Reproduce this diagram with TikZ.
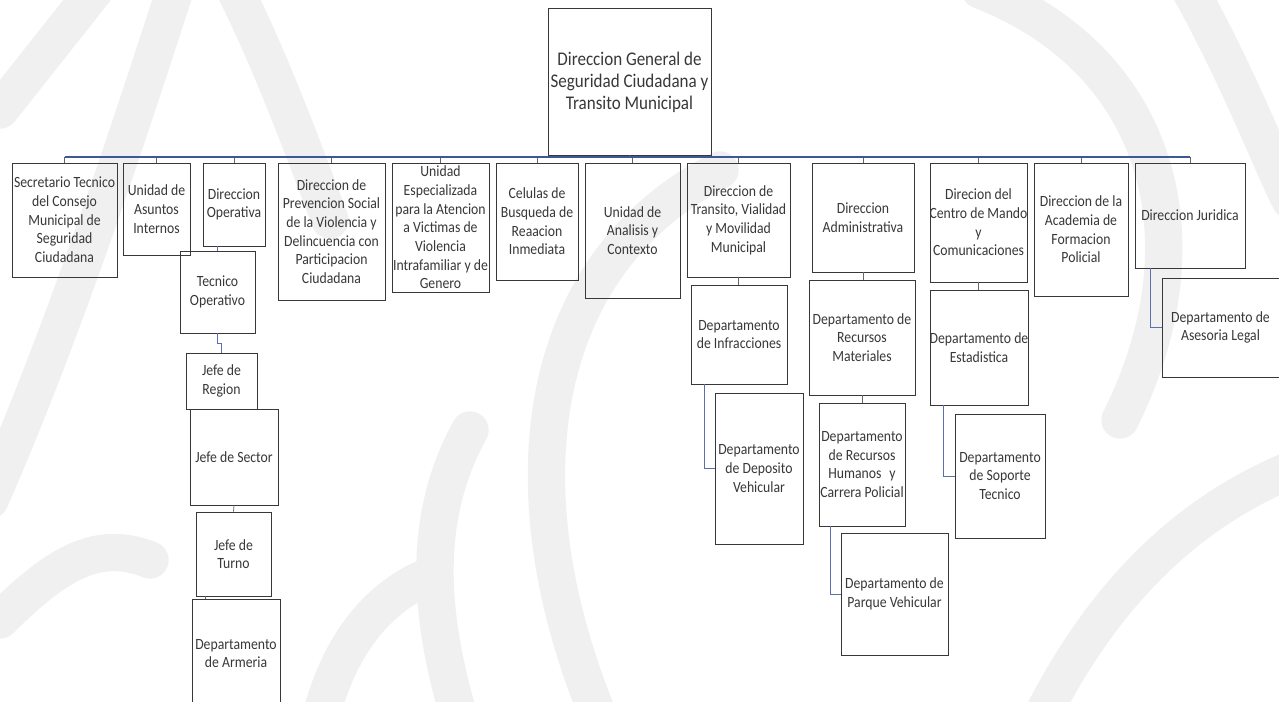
\documentclass[tikz,border=0pt]{standalone}
\usepackage{fontspec}
\setmainfont{Carlito}[FakeStretch=0.88]
\usetikzlibrary{fit}
\definecolor{busblue}{RGB}{62,88,150}
\definecolor{connblue}{RGB}{90,112,175}
\newcommand{\bodyfont}{\fontsize{11.7}{14}\selectfont}
\newcommand{\topfont}{\fontsize{14.5}{16.5}\selectfont}
\newcommand{\orgbox}[6]{\node[orgnode, fit={(#2,#3) (#4,#5)}] (#1) {};
  \node[orgtext] (#1-t) at (#1.center) {#6};}
\begin{document}
\begin{tikzpicture}[x=0.75pt,y=-0.75pt,
  orgnode/.style={draw=black!78, line width=0.7pt, inner sep=0pt},
  orgtext/.style={inner sep=0pt, align=center, font=\bodyfont, text=black!78},
  wm/.style={draw=black!6, line width=28pt, line cap=round},
  conn/.style={draw=connblue, line width=0.55pt},
  stub/.style={draw=black!60, line width=0.55pt},
  bus/.style={draw=busblue, line width=1.4pt}]
\useasboundingbox (0,0) rectangle (1279,702);
\fill[white] (0,0) rectangle (1279,702);
% watermark
\begin{scope}
\clip (0,0) rectangle (1279,702);
\draw[wm] (0,110) -- (95,-10);
\draw[wm] (175,-10) .. controls (120,160) and (60,340) .. (-10,500);
\draw[wm] (235,-10) .. controls (270,60) and (300,140) .. (330,220);
\draw[wm] (720,170) .. controls (540,260) and (500,480) .. (600,720);
\draw[wm] (460,720) .. controls (430,620) and (420,520) .. (470,430);
\draw[wm] (980,-10) .. controls (1160,60) and (1210,240) .. (1120,420);
\draw[wm] (1040,720) .. controls (1120,560) and (1220,500) .. (1290,470);
\draw[wm] (1190,-10) .. controls (1240,80) and (1270,160) .. (1290,200);
\draw[wm] (0,620) .. controls (60,560) and (100,540) .. (150,560);
\draw[wm] (320,720) .. controls (340,640) and (380,600) .. (420,580);
\end{scope}
% top
\node[orgnode, fit={(548,8) (711,155)}] (top) {};
\node[orgtext, font=\topfont] (top-t) at ([yshift=-1]top.center) {Direccion General de\\Seguridad Ciudadana y\\Transito Municipal};
% level 1
\orgbox{b1}{12}{163}{117}{277}{Secretario Tecnico\\del Consejo\\Municipal de\\Seguridad\\Ciudadana}
\orgbox{b2}{123}{163}{190}{255}{Unidad de\\Asuntos\\Internos}
\orgbox{b3}{203}{163}{265}{246}{Direccion\\Operativa}
\orgbox{b5}{278}{163}{385}{300}{Direccion de\\Prevencion Social\\de la Violencia y\\Delincuencia con\\Participacion\\Ciudadana}
\orgbox{b6}{392}{163}{489}{292}{Unidad\\Especializada\\para la Atencion\\a Victimas de\\Violencia\\Intrafamiliar y de\\Genero}
\orgbox{b7}{496}{163}{578}{280}{Celulas de\\Busqueda de\\Reaacion\\Inmediata}
\orgbox{b8}{585}{163}{680}{298}{Unidad de\\Analisis y\\Contexto}
\orgbox{b9}{687}{163}{790}{277}{Direccion de\\Transito, Vialidad\\y Movilidad\\Municipal}
\orgbox{b10}{812}{163}{914}{272}{Direccion\\Administrativa}
\orgbox{b11}{930}{163}{1027}{282}{Direcion del\\Centro de Mando\\y\\Comunicaciones}
\orgbox{b12}{1034}{163}{1128}{296}{Direccion de la\\Academia de\\Formacion\\Policial}
\orgbox{b13}{1135}{163}{1245}{268}{Direccion Juridica}
% sub levels
\orgbox{to}{180}{251}{255}{333}{Tecnico\\Operativo}
\orgbox{jr}{186}{353}{257}{409}{Jefe de\\Region}
\orgbox{js}{190}{409}{278}{505}{Jefe de Sector}
\orgbox{jt}{196}{512}{271}{596}{Jefe de\\Turno}
\orgbox{da}{192}{599}{280}{708}{Departamento\\de Armeria}
\orgbox{di}{691}{285}{787}{384}{Departamento\\de Infracciones}
\orgbox{dv}{715}{393}{803}{544}{Departamento\\de Deposito\\Vehicular}
\orgbox{rm}{809}{280}{915}{395}{Departamento de\\Recursos\\Materiales}
\orgbox{rh}{819}{403}{905}{526}{Departamento\\de Recursos\\Humanos\enspace y\\Carrera Policial}
\orgbox{pv}{841}{533}{948}{655}{Departamento de\\Parque Vehicular}
\orgbox{es}{930}{290}{1028}{405}{Departamento de\\Estadistica}
\orgbox{st}{955}{414}{1045}{538}{Departamento\\de Soporte\\Tecnico}
\orgbox{al}{1162}{278}{1279}{377}{Departamento de\\Asesoria Legal}
% bus
\coordinate (busL) at (65,157);
\draw[stub] (top.south) -- (top.south |- busL);
\foreach \b in {b1,b2,b3,b5,b6,b7,b8,b9,b10,b11,b12,b13}
  \draw[stub] (\b.north |- busL) -- (\b.north);
\draw[bus] (b1.north |- busL) -- (b13.north |- busL);
% children
\draw[conn, line width=1.2pt] (to.north |- b3.south) -- (to.north);
\draw[conn] (to.south) -- ++(0,10) -| (jr.north);
\draw[stub] (js.south) -- (jt.north);
\draw[stub] ([xshift=7]jt.south west) -- ([xshift=7]jt.south west |- da.north);
\draw[stub] (b9.south) -- (b9.south |- di.north);
\draw[conn] ([xshift=10]di.south west) |- (dv.west);
\draw[stub] (b10.south) -- (b10.south |- rm.north);
\draw[stub] (rm.south) -- (rm.south |- rh.north);
\draw[conn] ([xshift=9]rh.south west) |- (pv.west);
\draw[stub] (b11.south) -- (b11.south |- es.north);
\draw[conn] ([xshift=10]es.south west) |- (st.west);
\draw[conn] ([xshift=12]b13.south west) |- (al.west);
\end{tikzpicture}
\end{document}
